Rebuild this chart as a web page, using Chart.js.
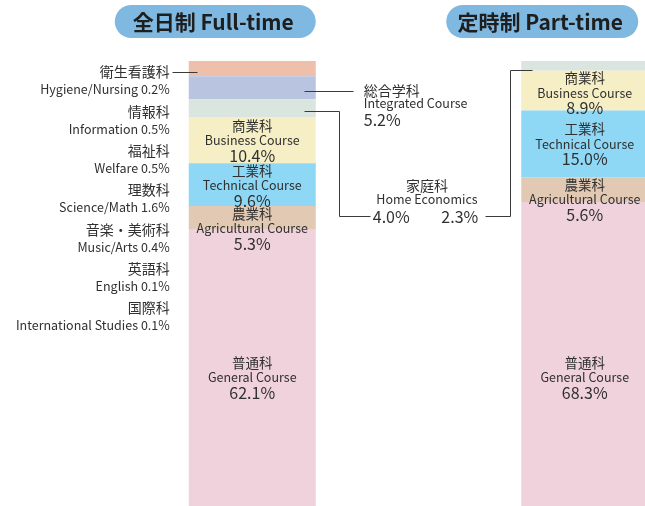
<!DOCTYPE html>
<html>
<head>
<meta charset="utf-8">
<script src="https://cdn.jsdelivr.net/npm/chart.js@4"></script>
<style>
  html, body { margin: 0; padding: 0; background: #fff; overflow: hidden; }
  #wrap { width: 645px; height: 506px; overflow: hidden; }
</style>
</head>
<body>
<div id="wrap"><canvas id="courses" width="780" height="506"></canvas></div>
<script>
// share of students by course (%), full-time / part-time
const groups = ['全日制 Full-time', '定時制 Part-time'];
const general = [62.1, 68.3];
const agricultural = [5.3, 5.6];
const technical = [9.6, 15.0];
const business = [10.4, 8.9];
const homeEconomics = [4.0, 2.3];
const integrated = [5.2, null];
const otherCourses = [3.4, null]; // the small full-time courses listed on the left

const courseJa = ['普通科', '農業科', '工業科', '商業科', '家庭科', '総合学科', 'その他'];
const courseEn = ['General Course', 'Agricultural Course', 'Technical Course', 'Business Course', 'Home Economics', 'Integrated Course', 'Other'];

const smallJa = ['衛生看護科', '情報科', '福祉科', '理数科', '音楽・美術科', '英語科', '国際科'];
const smallEn = ['Hygiene/Nursing', 'Information', 'Welfare', 'Science/Math', 'Music/Arts', 'English', 'International Studies'];
const smallShares = [0.2, 0.5, 0.5, 1.6, 0.4, 0.1, 0.1];

const colors = ['#efd2dc', '#e2c9b3', '#8ed7f5', '#f6efc6', '#dbe5df', '#b8c4e0', '#eebfab'];

const JP = '"Noto Sans CJK JP", "Noto Sans", sans-serif';
const ink = '#303030';
const fmt = v => v.toFixed(1) + '%';
const px = v => Math.round(v) + 0.5;

function line(ctx, pts) {
    ctx.beginPath();
    pts.forEach((p, i) => i ? ctx.lineTo(px(p[0]), px(p[1])) : ctx.moveTo(px(p[0]), px(p[1])));
    ctx.stroke();
}

function pill(ctx, x, y, w, h, text) {
    ctx.fillStyle = '#7fb8e1';
    ctx.beginPath();
    ctx.roundRect(x, y, w, h, h / 2);
    ctx.fill();
    ctx.fillStyle = '#1e1e1e';
    ctx.font = 'bold 21px ' + JP;
    ctx.textAlign = 'center';
    ctx.fillText(text, x + w / 2 - 2, y + h / 2 + 1);
}

const labelPlugin = {
    id: 'courseLabels',
    afterDatasetsDraw(chart) {
        const ctx = chart.ctx;
        const y = chart.scales.y;
        const seg = (d, i) => chart.getDatasetMeta(d).data[i];
        const full = seg(0, 0), part = seg(0, 1);
        const fullL = full.x - full.width / 2, fullR = full.x + full.width / 2;
        const partL = part.x - part.width / 2;

        ctx.save();
        ctx.textBaseline = 'middle';
        ctx.strokeStyle = '#3a3a3a';
        ctx.lineWidth = 1;

        // titles
        pill(ctx, fullR - 201, 5, 201, 33, groups[0]);
        pill(ctx, part.x + part.width / 2 - 202, 5, 192, 33, groups[1]);

        ctx.fillStyle = ink;
        // labels inside the bars
        for (let d = 0; d < 4; d++) {
            groups.forEach((g, i) => {
                const el = seg(d, i);
                let mid = Math.max((el.y + el.base) / 2, el.y + 22);
                if (d === 0) mid = y.getPixelForValue(29);
                ctx.textAlign = 'center';
                ctx.font = '13.5px ' + JP;
                ctx.fillText(courseJa[d], el.x, mid - 14.5);
                ctx.font = '12.5px ' + JP;
                ctx.fillText(courseEn[d], el.x, mid);
                ctx.font = '16px ' + JP;
                ctx.fillText(fmt(chart.data.datasets[d].data[i]), el.x, mid + 15.5);
            });
        }

        // small courses, listed to the left of the full-time bar
        const other = seg(6, 0);
        const oy = (other.y + other.base) / 2 + 3.5;
        line(ctx, [[fullL - 17, oy], [fullL + 8, oy]]);
        ctx.textAlign = 'right';
        smallJa.forEach((name, k) => {
            const ty = oy + k * 39.3;
            ctx.font = '14px ' + JP;
            ctx.fillText(name, fullL - 19, ty);
            ctx.font = '12.5px ' + JP;
            ctx.fillText(smallEn[k] + ' ' + fmt(smallShares[k]), fullL - 19, ty + 17.5);
        });

        // integrated course
        const integ = seg(5, 0);
        const iy = (integ.y + integ.base) / 2 + 3;
        line(ctx, [[fullR - 12, iy], [fullR + 37, iy]]);
        ctx.textAlign = 'left';
        ctx.font = '14px ' + JP;
        ctx.fillText(courseJa[5], fullR + 48, iy);
        ctx.font = '12.5px ' + JP;
        ctx.fillText(courseEn[5], fullR + 48, iy + 13);
        ctx.font = '16px ' + JP;
        ctx.fillText(fmt(integrated[0]), fullR + 48, iy + 29.5);

        // home economics, both groups
        const hf = seg(4, 0), hp = seg(4, 1);
        const hfy = (hf.y + hf.base) / 2 + 2.5;
        const hpy = (hp.y + hp.base) / 2 + 4;
        const xa = fullR + 23, xb = partL - 11, ly = 216;
        line(ctx, [[fullR - 12, hfy], [xa, hfy], [xa, ly], [xa + 31, ly]]);
        line(ctx, [[xb - 25, ly], [xb, ly], [xb, hpy], [partL + 11, hpy]]);
        const cx = (xa + xb) / 2 + 2.5;
        ctx.textAlign = 'center';
        ctx.font = '14px ' + JP;
        ctx.fillText(courseJa[4], cx, ly - 30);
        ctx.font = '12.5px ' + JP;
        ctx.fillText(courseEn[4], cx, ly - 17);
        ctx.font = '16px ' + JP;
        ctx.textAlign = 'left';
        ctx.fillText(fmt(homeEconomics[0]), xa + 34, ly + 1);
        ctx.textAlign = 'right';
        ctx.fillText(fmt(homeEconomics[1]), xb - 32, ly + 1);
        ctx.restore();
    }
};

const series = [general, agricultural, technical, business, homeEconomics, integrated, otherCourses];

new Chart(document.getElementById('courses').getContext('2d'), {
    type: 'bar',
    data: {
        labels: groups,
        datasets: series.map((values, k) => ({
            label: courseJa[k],
            data: values,
            backgroundColor: colors[k],
            borderWidth: 0,
            barPercentage: 0.382,
            categoryPercentage: 1
        }))
    },
    options: {
        responsive: false,
        animation: false,
        layout: { padding: { left: 86, right: 29, top: 61, bottom: 0 } },
        scales: {
            x: { stacked: true, display: false },
            y: { stacked: true, display: false, min: 0, max: 100 }
        },
        plugins: {
            legend: { display: false },
            tooltip: { enabled: false }
        }
    },
    plugins: [labelPlugin]
});
</script>
</body>
</html>
